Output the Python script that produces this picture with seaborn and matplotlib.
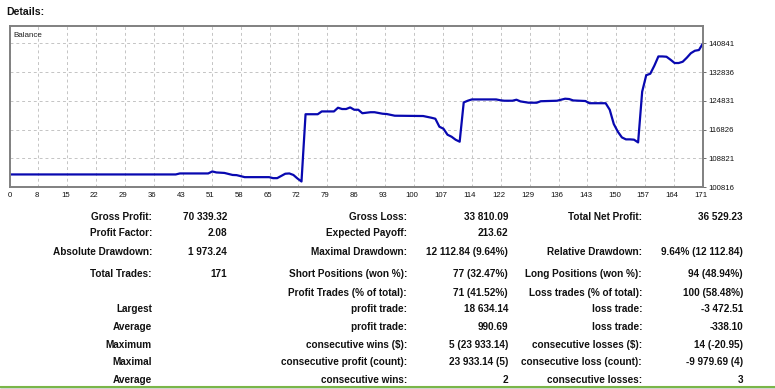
import numpy as np
import pandas as pd
import matplotlib
matplotlib.use('Agg')
import matplotlib.pyplot as plt
import matplotlib.transforms as mtransforms
import seaborn as sns

# ---------------- data ----------------
trade_no = [0, 41, 42, 49, 50, 51, 53, 55, 56, 58, 64, 65, 66, 68, 69, 70, 71, 72,
            73, 76, 77, 80, 81, 82, 83, 84, 85, 86, 87, 89, 90, 92, 93, 95, 102,
            104, 105, 106, 107, 108, 109, 110, 111, 112, 113, 114, 120, 121, 122,
            124, 125, 126, 128, 130, 131, 135, 136, 137, 138, 139, 142, 143, 147,
            148, 149, 150, 151, 152, 153, 154, 155, 156, 157, 158, 159, 160, 161,
            162, 163, 164, 165, 166, 167, 168, 169, 170, 171]
balance = [104312, 104312, 104590, 104590, 105147, 104870, 104730, 104170, 104120,
           103560, 103560, 103280, 103280, 104510, 104590, 104170, 103190, 102350,
           121080, 121080, 121860, 121860, 122890, 122530, 122530, 122980, 122330,
           122330, 121360, 121640, 121640, 121220, 121140, 120670, 120580,
           120110, 119830, 117600, 117045, 115375, 114820, 113980, 113430, 124370,
           124840, 125200, 125200, 124980, 124840, 124840, 125120, 124650, 124290,
           124290, 124700, 124840, 125120, 125400, 125310, 124920, 124760, 124145,
           124145, 122330, 118360, 116220, 114630, 114080, 114080, 113990, 113230,
           127350, 131940, 132360, 134590, 137175, 137175, 137090, 136255, 135340,
           135340, 135700, 136810, 138070, 138760, 138960, 140841]

x_labels = ['0', '8', '15', '22', '29', '36', '43', '51', '58', '65', '72', '79', '86',
            '93', '100', '107', '114', '122', '129', '136', '143', '150', '157', '164', '171']
y_ticks = [100816, 108821, 116826, 124831, 132836, 140841]

rows = [
    ['Gross Profit:', '70 339.32', 'Gross Loss:', '33 810.09', 'Total Net Profit:', '36 529.23'],
    ['Profit Factor:', '2.08', 'Expected Payoff:', '213.62', '', ''],
    ['Absolute Drawdown:', '1 973.24', 'Maximal Drawdown:', '12 112.84 (9.64%)',
     'Relative Drawdown:', '9.64% (12 112.84)'],
    ['Total Trades:', '171', 'Short Positions (won %):', '77 (32.47%)',
     'Long Positions (won %):', '94 (48.94%)'],
    ['', '', 'Profit Trades (% of total):', '71 (41.52%)',
     'Loss trades (% of total):', '100 (58.48%)'],
    ['Largest', '', 'profit trade:', '18 634.14', 'loss trade:', '-3 472.51'],
    ['Average', '', 'profit trade:', '990.69', 'loss trade:', '-338.10'],
    ['Maximum', '', 'consecutive wins ($):', '5 (23 933.14)',
     'consecutive losses ($):', '14 (-20.95)'],
    ['Maximal', '', 'consecutive profit (count):', '23 933.14 (5)',
     'consecutive loss (count):', '-9 979.69 (4)'],
    ['Average', '', 'consecutive wins:', '2', 'consecutive losses:', '3'],
]

# ---------------- style ----------------
sns.set_style('white')
plt.rcParams['font.family'] = ['Liberation Sans', 'DejaVu Sans']

W, H = 775, 389
fig = plt.figure(figsize=(W / 100, H / 100), dpi=100)
fig.patch.set_facecolor('white')


def px(x, y):
    return x / W, 1 - y / H


ax = fig.add_axes([9.5 / W, 1 - 187 / H, 693.5 / W, 161 / H])
df = pd.DataFrame({'trade': trade_no, 'balance': balance})
sns.lineplot(data=df, x='trade', y='balance', ax=ax, color='#0808b0',
             linewidth=1.6, estimator=None, sort=True)

ax.set_xlim(0, 171)
ax.set_ylim(100816, 145650)
ax.set_xticks(np.linspace(0, 171, len(x_labels)))
ax.set_xticklabels(x_labels)
ax.set_yticks(y_ticks)
ax.set_yticklabels([str(v) for v in y_ticks])
ax.yaxis.tick_right()
ax.tick_params(axis='both', labelsize=5.6, length=2, width=0.6, color='#555555',
               pad=1.5, direction='out', labelcolor='#111111')
ax.tick_params(axis='y', pad=2)
ax.set_xlabel('')
ax.set_ylabel('')
ax.grid(True, color='#c4c4c4', linestyle=(0, (3, 3)), linewidth=0.7)
for s in ax.spines.values():
    s.set_color('#808080')
    s.set_linewidth(1.4)

# x labels sit slightly left of their grid lines in the original
shift = mtransforms.ScaledTranslation(-2 / 100, 0, fig.dpi_scale_trans)
for i, lab in enumerate(ax.get_xticklabels()):
    if i > 0:
        lab.set_transform(lab.get_transform() + shift)

ax.text(0.006, 0.96, 'Balance', transform=ax.transAxes, fontsize=5.8,
        ha='left', va='top', color='#222222')

# ---------------- header / table ----------------
fig.text(*px(6, 12), 'Details:', fontsize=7.6, fontweight='bold', ha='left',
         va='center', color='#111111')

col_x = [152, 227, 407, 508, 642, 743]
row_y = [216.7, 233.3, 251.7, 274.3, 292.7, 309.3, 327.3, 344.7, 362, 380]
for r, yy in zip(rows, row_y):
    for txt, xx in zip(r, col_x):
        if txt:
            fig.text(*px(xx, yy), txt, fontsize=7.2, fontweight='bold',
                     ha='right', va='center', color='#111111')

# bottom separator
fig.add_artist(plt.Line2D([0, 1], [1 - 386.8 / H, 1 - 386.8 / H], color='#7ab648',
                          linewidth=1.5, transform=fig.transFigure))
fig.add_artist(plt.Line2D([0, 1], [1 - 388.6 / H, 1 - 388.6 / H], color='#333333',
                          linewidth=1.0, transform=fig.transFigure))

fig.savefig('out.png', dpi=100)
